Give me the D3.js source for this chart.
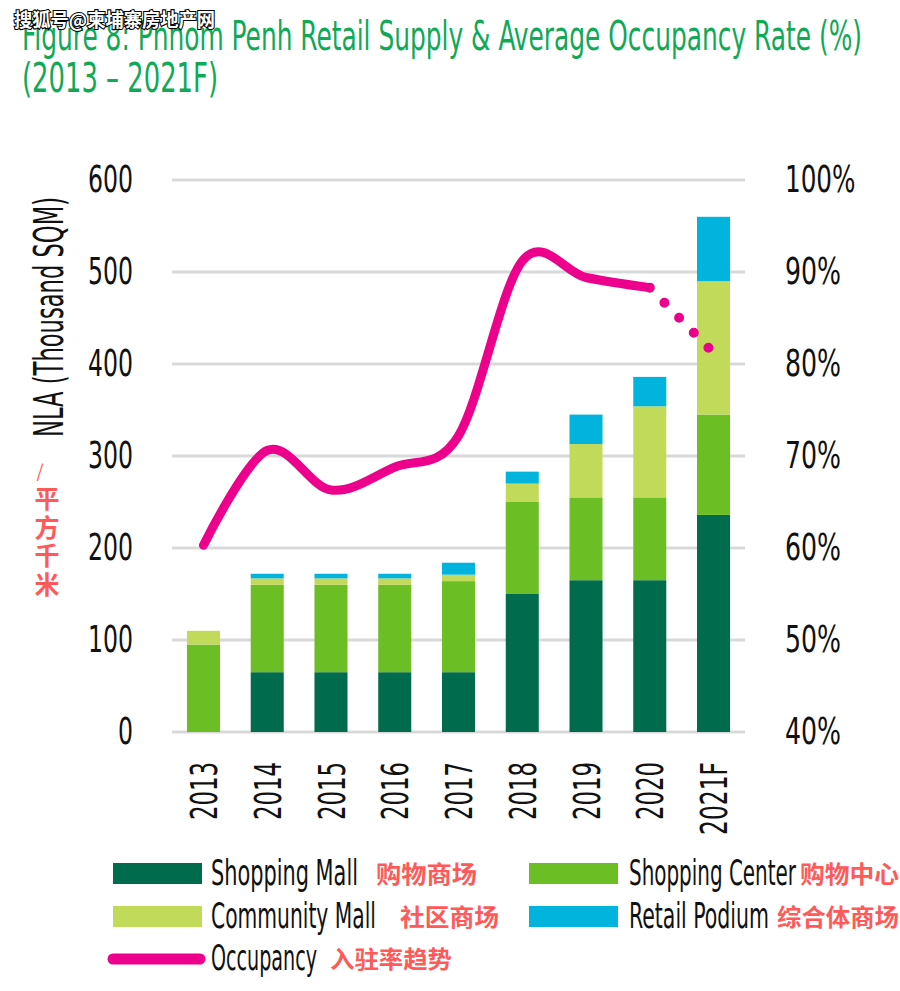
<!DOCTYPE html>
<html>
<head>
<meta charset="utf-8">
<script src="https://cdn.jsdelivr.net/npm/d3@7"></script>
<style>
  html, body { margin: 0; padding: 0; background: #fff; }
  svg { display: block; }
</style>
</head>
<body>
<div id="chart"></div>
<script>
// ---------------- DATA ----------------
const categories = ["2013", "2014", "2015", "2016", "2017", "2018", "2019", "2020", "2021F"];
const shoppingMall   = [0, 65, 65, 65, 65, 150, 165, 165, 236];
const shoppingCenter = [95, 95, 95, 95, 99, 100, 90, 90, 109];
const communityMall  = [15, 7, 7, 7, 7, 20, 58, 99, 145];
const retailPodium   = [0, 5, 5, 5, 13, 13, 32, 32, 70];
const occupancy      = [60.3, 70.6, 66.3, 68.8, 72.2, 91.2, 89.4, 88.3, 81.2]; // %
const leftTicks  = [0, 100, 200, 300, 400, 500, 600];
const rightTicks = [40, 50, 60, 70, 80, 90, 100];

const seriesNames = ["Shopping Mall", "Shopping Center", "Community Mall", "Retail Podium"];
const seriesCN    = ["购物商场", "购物中心", "社区商场", "综合体商场"];
const colors = {
  "Shopping Mall": "#006B4D",
  "Shopping Center": "#6CBE25",
  "Community Mall": "#C2DA5A",
  "Retail Podium": "#00B4DD"
};
const occColor = "#EC008C";
const FONT = "'Liberation Sans Narrow', 'DejaVu Sans Condensed', 'Liberation Sans', sans-serif";
const CJK = "'Noto Sans CJK SC', sans-serif";

// ---------------- SVG ----------------
const W = 900, H = 991;
const svg = d3.select("#chart").append("svg").attr("width", W).attr("height", H);

const x = d3.scaleBand().domain(categories).range([171.6, 745.4]).paddingInner(0.482).paddingOuter(0.241);
const y = d3.scaleLinear().domain([0, 600]).range([732, 180]);
const y2 = d3.scaleLinear().domain([40, 100]).range([732, 180]);

// Title
svg.append("text").attr("x", 22).attr("y", 50)
  .attr("font-family", FONT).attr("font-size", 40).attr("fill", "#10A957")
  .attr("textLength", 840).attr("lengthAdjust", "spacingAndGlyphs")
  .text("Figure 8: Phnom Penh Retail Supply & Average Occupancy Rate (%)");
svg.append("text").attr("x", 22).attr("y", 92)
  .attr("font-family", FONT).attr("font-size", 40).attr("fill", "#10A957")
  .attr("textLength", 196).attr("lengthAdjust", "spacingAndGlyphs")
  .text("(2013 – 2021F)");

// Watermark
svg.append("text").attr("x", 14).attr("y", 27)
  .attr("font-family", CJK).attr("font-size", 19).attr("font-weight", "bold")
  .attr("fill", "#fff").attr("stroke", "#000").attr("stroke-width", 2.2)
  .attr("paint-order", "stroke").attr("textLength", 201).attr("lengthAdjust", "spacingAndGlyphs")
  .text("搜狐号@柬埔寨房地产网");

// Gridlines
svg.append("g").selectAll("line").data(leftTicks).join("line")
  .attr("x1", 172).attr("x2", 745)
  .attr("y1", d => y(d)).attr("y2", d => y(d))
  .attr("stroke", "#d9d9d9").attr("stroke-width", 3);

// Left axis
const gL = svg.append("g").attr("transform", "translate(172,0)")
  .call(d3.axisLeft(y).tickValues(leftTicks).tickSize(0).tickPadding(39));
gL.select(".domain").remove();
gL.selectAll("text")
  .attr("font-family", FONT).attr("font-size", 38).attr("fill", "#111")
  .attr("dy", "0.3em")
  .attr("textLength", d => String(d).length * 15).attr("lengthAdjust", "spacingAndGlyphs");

// Right axis
const gR = svg.append("g").attr("transform", "translate(745,0)")
  .call(d3.axisRight(y2).tickValues(rightTicks).tickSize(0).tickPadding(40).tickFormat(d => d + "%"));
gR.select(".domain").remove();
gR.selectAll("text")
  .attr("font-family", FONT).attr("font-size", 38).attr("fill", "#111")
  .attr("dy", "0.3em")
  .attr("textLength", d => String(d).length * 14.5 + 27).attr("lengthAdjust", "spacingAndGlyphs");

// Y axis title
svg.append("text").attr("transform", "translate(63,317) rotate(-90)")
  .attr("text-anchor", "middle")
  .attr("font-family", FONT).attr("font-size", 40).attr("fill", "#111")
  .attr("textLength", 240).attr("lengthAdjust", "spacingAndGlyphs")
  .text("NLA (Thousand SQM)");

// Red CJK unit
svg.append("text").attr("x", 40).attr("y", 478)
  .attr("font-family", CJK).attr("font-size", 18).attr("fill", "#FF5A5A")
  .attr("text-anchor", "middle").text("/");
["平", "方", "千", "米"].forEach((c, i) => {
  svg.append("text").attr("x", 47).attr("y", 508 + i * 28.5)
    .attr("font-family", CJK).attr("font-size", 25).attr("font-weight", "bold")
    .attr("fill", "#FF5A5A").attr("text-anchor", "middle").text(c);
});

// X axis labels
const gX = svg.append("g").attr("transform", "translate(0,762)")
  .call(d3.axisBottom(x).tickSize(0).tickPadding(0));
gX.select(".domain").remove();
gX.selectAll("text")
  .attr("transform", "rotate(-90)")
  .attr("text-anchor", "end")
  .attr("x", 0).attr("y", 0).attr("dy", "0.36em")
  .attr("font-family", FONT).attr("font-size", 38).attr("fill", "#111")
  .attr("textLength", d => d.length === 5 ? 73 : 58).attr("lengthAdjust", "spacingAndGlyphs");

// Stacked bars
const table = categories.map((c, i) => ({
  cat: c,
  "Shopping Mall": shoppingMall[i],
  "Shopping Center": shoppingCenter[i],
  "Community Mall": communityMall[i],
  "Retail Podium": retailPodium[i]
}));
const stacked = d3.stack().keys(seriesNames)(table);
svg.append("g").selectAll("g").data(stacked).join("g")
  .attr("fill", d => colors[d.key])
  .selectAll("rect").data(d => d).join("rect")
  .attr("x", d => x(d.data.cat))
  .attr("width", x.bandwidth())
  .attr("y", d => y(d[1]))
  .attr("height", d => Math.max(0, y(d[0]) - y(d[1])));

// Occupancy line
const pts = categories.map((c, i) => [x(c) + x.bandwidth() / 2, y2(occupancy[i])]);
const solid = pts.slice(0, 8);
const dotted = pts.slice(7);
svg.append("path")
  .attr("d", d3.line().curve(d3.curveCardinal.tension(0))(solid))
  .attr("fill", "none").attr("stroke", occColor).attr("stroke-width", 9)
  .attr("stroke-linecap", "round").attr("stroke-linejoin", "round");
svg.append("path")
  .attr("d", d3.line()(dotted))
  .attr("fill", "none").attr("stroke", occColor).attr("stroke-width", 10)
  .attr("stroke-linecap", "round").attr("stroke-dasharray", "0 21");

// Legend
const legendItems = [
  { key: "Shopping Mall", cn: "购物商场", sx: 113, tx: 211, tw: 147, cx: 376, cw: 101, row: 0 },
  { key: "Shopping Center", cn: "购物中心", sx: 529, tx: 629, tw: 167, cx: 800, cw: 99, row: 0 },
  { key: "Community Mall", cn: "社区商场", sx: 113, tx: 211, tw: 165, cx: 400, cw: 99, row: 1 },
  { key: "Retail Podium", cn: "综合体商场", sx: 529, tx: 629, tw: 140, cx: 777, cw: 122, row: 1 }
];
const rowY = [863, 906];
legendItems.forEach(it => {
  const top = rowY[it.row];
  svg.append("rect").attr("x", it.sx).attr("y", top).attr("width", 89).attr("height", 21)
    .attr("fill", colors[it.key]);
  svg.append("text").attr("x", it.tx).attr("y", top + 22)
    .attr("font-family", FONT).attr("font-size", 36).attr("fill", "#111")
    .attr("textLength", it.tw).attr("lengthAdjust", "spacingAndGlyphs").text(it.key);
  svg.append("text").attr("x", it.cx).attr("y", top + 20)
    .attr("font-family", CJK).attr("font-size", 24).attr("font-weight", "bold")
    .attr("fill", "#FF5A5A")
    .attr("textLength", it.cw).attr("lengthAdjust", "spacingAndGlyphs").text(it.cn);
});
svg.append("line").attr("x1", 113).attr("x2", 200).attr("y1", 959).attr("y2", 959)
  .attr("stroke", occColor).attr("stroke-width", 11).attr("stroke-linecap", "round");
svg.append("text").attr("x", 211).attr("y", 970)
  .attr("font-family", FONT).attr("font-size", 36).attr("fill", "#111")
  .attr("textLength", 106).attr("lengthAdjust", "spacingAndGlyphs").text("Occupancy");
svg.append("text").attr("x", 330).attr("y", 968)
  .attr("font-family", CJK).attr("font-size", 24).attr("font-weight", "bold")
  .attr("fill", "#FF5A5A")
  .attr("textLength", 122).attr("lengthAdjust", "spacingAndGlyphs").text("入驻率趋势");
</script>
</body>
</html>
